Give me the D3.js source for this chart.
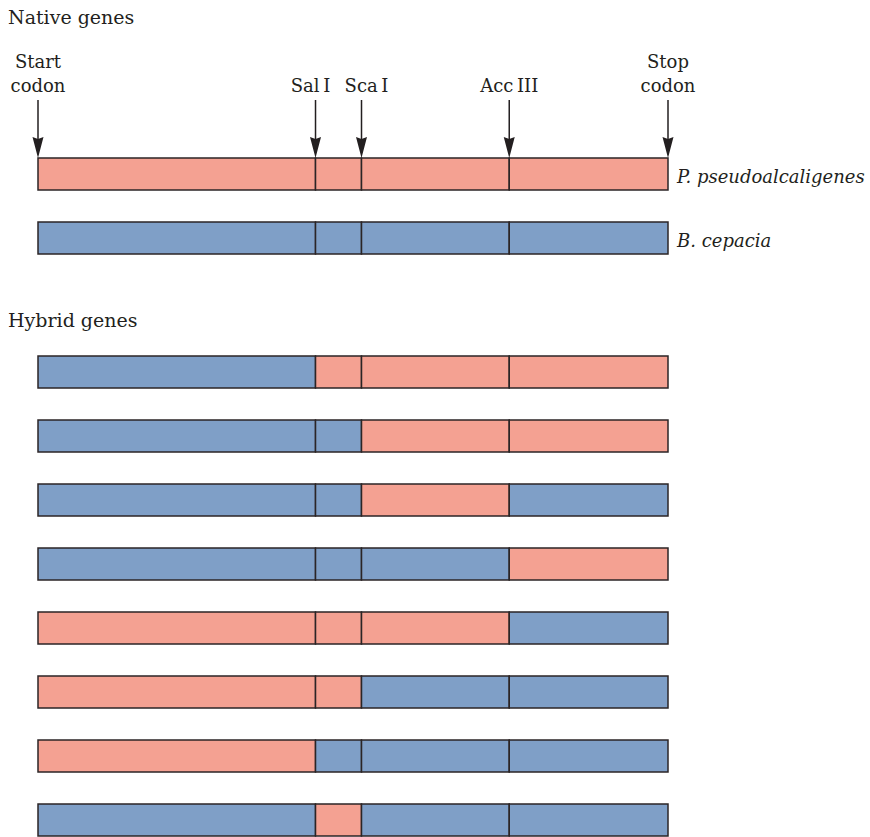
<!DOCTYPE html>
<html>

<head>
  <title>Native and hybrid genes</title>
  <script src="https://cdn.jsdelivr.net/npm/d3@7/dist/d3.min.js"></script>
  <style type="text/css">
    body {
      margin: 0;
      background: #fff;
    }

    text {
      font-family: "DejaVu Serif", "Liberation Serif", serif;
      fill: #231f20;
    }

    .seg {
      stroke: #2b2526;
      stroke-width: 1.5px;
    }
  </style>
</head>

<body>
  <div id="chartArea"></div>
  <script type="text/javascript">
    // cut sites, as fraction of the gene length
    let siteNames = ['Start\ncodon', 'Sal\u2009I', 'Sca\u2009I', 'Acc\u2009III', 'Stop\ncodon'];
    let sitePos = [0, 0.4405, 0.5135, 0.748, 1];

    // species of origin: P = P. pseudoalcaligenes, B = B. cepacia
    let nativeNames = ['P. pseudoalcaligenes', 'B. cepacia'];
    let nativeGenes = [
      ['P', 'P', 'P', 'P'],
      ['B', 'B', 'B', 'B']
    ];
    let hybridGenes = [
      ['B', 'P', 'P', 'P'],
      ['B', 'B', 'P', 'P'],
      ['B', 'B', 'P', 'B'],
      ['B', 'B', 'B', 'P'],
      ['P', 'P', 'P', 'B'],
      ['P', 'P', 'B', 'B'],
      ['P', 'B', 'B', 'B'],
      ['B', 'P', 'B', 'B']
    ];

    let w = 870;
    let h = 837;
    let barH = 32;

    let color = d3.scaleOrdinal()
      .domain(['P', 'B'])
      .range(['#f4a192', '#7f9fc7']);

    let xScale = d3.scaleLinear()
      .domain([0, 1])
      .range([38, 668]);

    let yNative = d3.scaleLinear()
      .domain([0, 1])
      .range([158, 222]);

    let yHybrid = d3.scaleLinear()
      .domain([0, 7])
      .range([356, 804]);

    let svg = d3.select('#chartArea').append('svg')
      .attr('width', w)
      .attr('height', h);

    // section titles
    svg.append('text')
      .attr('x', 8).attr('y', 24)
      .attr('font-size', 19)
      .text('Native genes');

    svg.append('text')
      .attr('x', 8).attr('y', 327)
      .attr('font-size', 19)
      .text('Hybrid genes');

    // arrows and site labels
    let arrowTop = 100;
    let arrowTip = 158;
    let labelShift = [0, -5, 5, 0, 0];

    svg.selectAll('.arrow')
      .data(sitePos)
      .enter()
      .append('line')
      .attr('class', 'arrow')
      .attr('x1', d => xScale(d))
      .attr('x2', d => xScale(d))
      .attr('y1', arrowTop)
      .attr('y2', arrowTip - 12)
      .attr('stroke', '#231f20')
      .attr('stroke-width', 1.5);

    svg.selectAll('.head')
      .data(sitePos)
      .enter()
      .append('path')
      .attr('class', 'head')
      .attr('d', d => {
        let x = xScale(d);
        return 'M' + (x - 5.5) + ',' + (arrowTip - 21) + ' L' + x + ',' + (arrowTip - 19) +
          ' L' + (x + 5.5) + ',' + (arrowTip - 21) + ' L' + x + ',' + arrowTip + ' Z';
      })
      .attr('fill', '#231f20');

    let labels = svg.selectAll('.site')
      .data(siteNames)
      .enter()
      .append('text')
      .attr('class', 'site')
      .attr('text-anchor', 'middle')
      .attr('font-size', 18)
      .attr('transform', (d, i) => 'translate(' + (xScale(sitePos[i]) + labelShift[i]) + ',0)');

    labels.selectAll('tspan')
      .data(d => {
        let lines = d.split('\n');
        return lines.map((t, j) => ({ t: t, y: 92 - (lines.length - 1 - j) * 24 }));
      })
      .enter()
      .append('tspan')
      .attr('x', 0)
      .attr('y', d => d.y)
      .text(d => d.t);

    function drawRows(rows, yScale) {
      let g = svg.append('g');
      let row = g.selectAll('g')
        .data(rows)
        .enter()
        .append('g')
        .attr('transform', (d, i) => 'translate(0,' + yScale(i) + ')');

      row.selectAll('rect')
        .data(d => d.map((s, k) => ({ s: s, x0: sitePos[k], x1: sitePos[k + 1] })))
        .enter()
        .append('rect')
        .attr('class', 'seg')
        .attr('x', d => xScale(d.x0))
        .attr('width', d => xScale(d.x1) - xScale(d.x0))
        .attr('y', 0)
        .attr('height', barH)
        .attr('fill', d => color(d.s));
    }

    drawRows(nativeGenes, yNative);
    drawRows(hybridGenes, yHybrid);

    svg.selectAll('.species')
      .data(nativeNames)
      .enter()
      .append('text')
      .attr('class', 'species')
      .attr('x', 677)
      .attr('y', (d, i) => yNative(i) + 25)
      .attr('font-size', 18)
      .attr('font-style', 'italic')
      .text(d => d);
  </script>
</body>

</html>
